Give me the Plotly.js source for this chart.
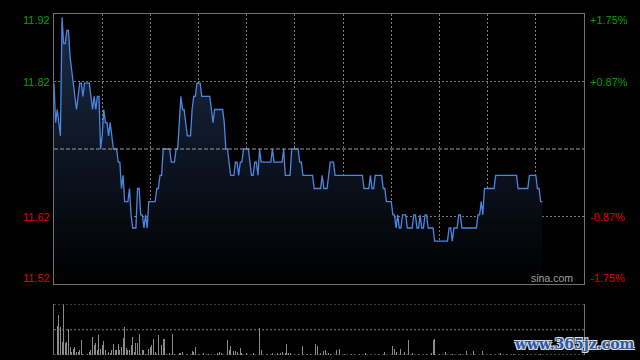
<!DOCTYPE html>
<html><head><meta charset="utf-8">
<script src="https://cdn.plot.ly/plotly-3.0.1.min.js"></script>
<style>html,body{margin:0;padding:0;background:#000;}#chart{width:640px;height:360px;}</style>
</head><body><div id="chart"></div>
<script>
// ---- data ----
const prevClose = 11.72;
const sessionMinutes = 330; // HK session: 150 + 180 minutes
const priceMinutes = [0,1,2,3,4,5,6,7,8,9,10,11,12,13,14,15,16,17,18,19,22,23,24,25,26,27,28,29,30,31,32,33,34,35,36,37,39,40,41,42,43,44,46,47,48,49,51,52,53,54,55,56,57,58,59,63,64,65,66,67,68,72,73,75,76,77,78,79,80,81,82,83,85,86,87,88,89,91,92,97,98,99,100,105,106,107,108,110,112,113,114,115,116,117,118,121,123,124,125,126,127,128,129,135,136,137,142,143,144,147,148,152,153,154,155,161,162,166,167,168,170,172,174,175,192,193,196,197,198,199,200,204,205,206,207,210,211,212,213,214,215,216,217,219,220,223,224,225,226,227,228,229,230,231,232,233,236,237,245,246,247,248,249,251,252,253,254,263,264,265,266,267,268,274,275,288,289,295,296,300,301,302,303,304];
const prices = [11.82,11.76,11.78,11.76,11.74,11.92,11.88,11.88,11.90,11.90,11.86,11.84,11.82,11.80,11.78,11.80,11.82,11.82,11.80,11.82,11.82,11.80,11.78,11.80,11.78,11.80,11.80,11.72,11.74,11.78,11.76,11.76,11.74,11.76,11.74,11.72,11.72,11.70,11.70,11.66,11.68,11.64,11.64,11.66,11.62,11.60,11.60,11.66,11.66,11.62,11.62,11.60,11.62,11.60,11.64,11.64,11.66,11.66,11.68,11.68,11.72,11.72,11.70,11.70,11.72,11.72,11.76,11.80,11.78,11.78,11.76,11.74,11.74,11.78,11.80,11.80,11.82,11.82,11.80,11.80,11.78,11.76,11.78,11.78,11.76,11.72,11.72,11.68,11.68,11.70,11.70,11.68,11.70,11.70,11.72,11.72,11.68,11.68,11.70,11.70,11.68,11.72,11.70,11.70,11.72,11.70,11.70,11.72,11.68,11.68,11.72,11.72,11.70,11.70,11.68,11.68,11.66,11.66,11.68,11.66,11.66,11.70,11.70,11.68,11.68,11.66,11.66,11.68,11.66,11.66,11.68,11.68,11.66,11.66,11.64,11.64,11.62,11.62,11.60,11.62,11.60,11.60,11.62,11.62,11.60,11.60,11.62,11.62,11.60,11.60,11.62,11.60,11.60,11.62,11.62,11.60,11.60,11.58,11.58,11.60,11.60,11.58,11.60,11.60,11.62,11.62,11.60,11.60,11.62,11.62,11.64,11.62,11.66,11.66,11.68,11.68,11.66,11.66,11.68,11.68,11.66,11.66,11.64,11.64];
const volumeMinutes = [0,2,3,4,5,6,7,8,9,10,11,12,13,14,15,16,17,18,21,22,23,24,25,26,27,28,29,30,31,32,33,34,35,36,37,38,39,40,41,42,43,44,45,46,47,48,49,50,51,52,53,54,55,56,57,59,60,61,62,63,64,65,66,67,68,69,70,72,74,75,78,79,80,83,86,87,88,90,93,96,99,102,103,104,108,109,110,112,113,114,116,117,120,124,128,129,133,136,139,141,142,144,145,146,147,152,155,158,160,163,164,166,168,169,171,172,176,178,181,185,190,194,198,202,206,211,212,213,216,218,221,223,227,232,235,236,237,240,244,248,253,257,261,264,267,272,278,282,286,295,303];
const volumes = [51,57,80,56,26,100,24,26,51,16,5,12,16,5,5,9,29,2,2,5,10,36,19,24,9,39,12,19,28,9,16,5,4,9,21,9,10,21,9,16,34,55,14,10,9,19,36,5,24,24,41,2,9,10,2,11,16,19,31,5,2,39,16,20,32,31,2,3,41,2,4,4,5,2,7,5,15,2,3,2,2,3,5,3,29,10,17,7,7,5,14,3,3,4,53,9,2,3,4,3,5,4,21,3,3,2,17,2,2,22,17,3,7,10,3,2,9,12,2,2,2,3,3,2,5,17,12,5,12,5,29,3,2,2,3,29,32,2,5,2,2,7,7,15,7,2,4,2,2,2,2];
const labelPct = [0.0175, 0.00875, -0.00875, -0.0175];
const leftLabels = ['11.92','11.82','11.62','11.52'];
const rightLabels = ['+1.75%','+0.87%','-0.87%','-1.75%'];

// ---- chart ----
const yMin = prevClose * (1 - 0.0175), yMax = prevClose * (1 + 0.0175);
const volMax = Math.max(...volumes);
const font = 'Liberation Sans, Arial, sans-serif';
const gridColor = '#7a7a7a';
const borderColor = '#707070';

const traces = [
  {
    x: priceMinutes, y: prices, type: 'scatter', mode: 'lines',
    line: {color: '#4a86e0', width: 1.3},
    fill: 'tozeroy',
    fillgradient: {type: 'vertical', start: yMin, stop: yMax,
      colorscale: [[0, 'rgb(0,0,0)'], [1, 'rgb(28,44,72)']]},
    hoverinfo: 'skip', xaxis: 'x', yaxis: 'y'
  },
  {
    x: volumeMinutes, y: volumes, type: 'bar', width: 0.6,
    marker: {color: '#8a8a8a', line: {width: 0}},
    hoverinfo: 'skip', xaxis: 'x2', yaxis: 'y2'
  }
];

const annotations = [];
labelPct.forEach((p, i) => {
  const col = p > 0 ? '#00a000' : '#e00000';
  const yv = prevClose * (1 + p);
  const ys = i === 0 ? -6 : (i === labelPct.length - 1 ? 6 : 0);
  annotations.push({xref: 'paper', yref: 'y', x: 0, y: yv, xanchor: 'right', yanchor: 'middle',
    xshift: -2, yshift: ys, text: leftLabels[i], showarrow: false, font: {family: font, size: 11, color: col}});
  annotations.push({xref: 'paper', yref: 'y', x: 1, y: yv, xanchor: 'left', yanchor: 'middle',
    xshift: 4, yshift: ys, text: rightLabels[i], showarrow: false, font: {family: font, size: 11, color: col}});
});
annotations.push({xref: 'paper', yref: 'y', x: 0.94, y: yMin, xanchor: 'center', yanchor: 'bottom',
  yshift: -2, text: 'sina.com', showarrow: false, font: {family: font, size: 10.5, color: '#a0a0a0'}});
annotations.push({xref: 'paper', yref: 'paper', x: 0.983, y: 0.032, xanchor: 'center', yanchor: 'middle',
  text: 'www.365jz.com', showarrow: false,
  font: {family: 'DejaVu Serif, serif', size: 14, weight: 'bold', color: '#2b5aa8',
    shadow: '1px 1px 0 #ddd, -1px -1px 0 #ddd, 1px -1px 0 #ddd, -1px 1px 0 #ddd'}});

const shapes = [
  {type: 'line', xref: 'paper', yref: 'y', x0: 0, x1: 1, y0: prevClose, y1: prevClose,
    line: {color: '#9a9a9a', width: 1, dash: '4px,2px'}},
  ...[0, volMax / 2, volMax].map(v => ({type: 'line', xref: 'paper', yref: 'y2', x0: 0, x1: 1, y0: v, y1: v,
    line: {color: gridColor, width: 1, dash: '2px,2px'}}))
];

const layout = {
  width: 640, height: 360,
  paper_bgcolor: '#000', plot_bgcolor: '#000',
  margin: {l: 54, r: 56, t: 14, b: 5},
  showlegend: false, bargap: 0,
  xaxis: {domain: [0, 1], range: [0, sessionMinutes], anchor: 'y', showticklabels: false, ticks: '',
    showgrid: true, tick0: 0, dtick: 30, gridcolor: gridColor, griddash: '2px,2px', gridwidth: 1,
    zeroline: false, showline: true, mirror: true, linecolor: borderColor, linewidth: 1, fixedrange: true},
  yaxis: {domain: [0.2082, 1], range: [yMin, yMax], anchor: 'x', showticklabels: false, ticks: '',
    tickvals: [prevClose * (1 + 0.00875), prevClose * (1 - 0.00875)],
    showgrid: true, gridcolor: gridColor, griddash: '2px,2px', gridwidth: 1,
    zeroline: false, showline: true, mirror: true, linecolor: borderColor, linewidth: 1, fixedrange: true},
  xaxis2: {domain: [0, 1], range: [0, sessionMinutes], anchor: 'y2', showticklabels: false, ticks: '',
    showgrid: false, zeroline: false, showline: false, fixedrange: true},
  yaxis2: {domain: [0, 0.1481], range: [0, volMax], anchor: 'x2', showticklabels: false, ticks: '',
    showgrid: false, zeroline: false, showline: true, mirror: true, linecolor: borderColor, linewidth: 1, fixedrange: true},
  shapes: shapes,
  annotations: annotations
};

Plotly.newPlot('chart', traces, layout, {displayModeBar: false, staticPlot: true});
</script>
</body></html>
